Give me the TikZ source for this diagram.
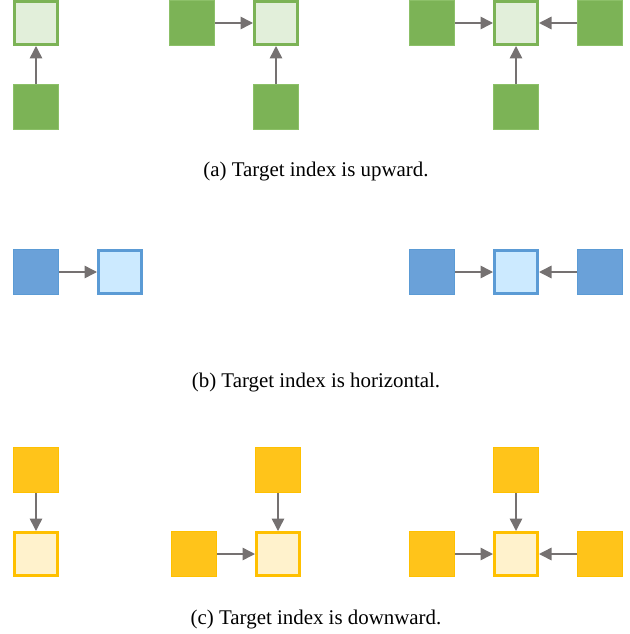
\documentclass[tikz,border=0pt]{standalone}
\usepackage{fontspec}
\setmainfont{Liberation Serif}
\usetikzlibrary{arrows.meta}
\definecolor{gsrc}{HTML}{7CB356}
\definecolor{gsrcd}{HTML}{8CC068}
\definecolor{gtgt}{HTML}{E2EFDA}
\definecolor{gtgtd}{HTML}{7CB356}
\definecolor{bsrc}{HTML}{6AA1D9}
\definecolor{bsrcd}{HTML}{5B9BD5}
\definecolor{btgt}{HTML}{CCEAFF}
\definecolor{btgtd}{HTML}{5B9BD5}
\definecolor{ysrc}{HTML}{FFC41A}
\definecolor{ysrcd}{HTML}{FFC000}
\definecolor{ytgt}{HTML}{FFF2CC}
\definecolor{ytgtd}{HTML}{FFC000}
\definecolor{arr}{HTML}{757171}
\tikzset{
  box/.style={rectangle, inner sep=0pt, minimum size=45pt},
  gs/.style={box, fill=gsrc, draw=gsrcd, line width=1pt},
  gt/.style={box, minimum size=43pt, fill=gtgt, draw=gtgtd, line width=3pt},
  bs/.style={box, fill=bsrc, draw=bsrcd, line width=1pt},
  bt/.style={box, minimum size=43pt, fill=btgt, draw=btgtd, line width=3pt},
  ys/.style={box, fill=ysrc, draw=ysrcd, line width=1pt},
  yt/.style={box, minimum size=43pt, fill=ytgt, draw=ytgtd, line width=3pt},
  link/.style={draw=arr, line width=1.5pt, -{Triangle[length=12.5pt,width=12.5pt]}},
  captext/.style={font=\fontsize{20.9}{25}\selectfont, inner sep=0pt, anchor=base}
}
\begin{document}
\begin{tikzpicture}[x=1pt,y=-1pt]
\useasboundingbox (0,0) rectangle (629,634);
% (a)
\node[gt] (a1t) at (36,23) {};
\node[gs] (a1s) at (36,107) {};
\draw[link] (a1s) -- (a1t);
\node[gt] (a2t) at (276,23) {};
\node[gs] (a2l) at (192,23) {};
\node[gs] (a2b) at (276,107) {};
\draw[link] (a2l) -- (a2t);
\draw[link] (a2b) -- (a2t);
\node[gt] (a3t) at (516,23) {};
\node[gs] (a3l) at (432,23) {};
\node[gs] (a3r) at (600,23) {};
\node[gs] (a3b) at (516,107) {};
\draw[link] (a3l) -- (a3t);
\draw[link] (a3r) -- (a3t);
\draw[link] (a3b) -- (a3t);
\node[captext] (capa) at (316,176) {(a) Target index is upward.};
% (b)
\node[bs] (b1l) at (36,272) {};
\node[bt] (b1t) at (120,272) {};
\draw[link] (b1l) -- (b1t);
\node[bs] (b3l) at (432,272) {};
\node[bt] (b3t) at (516,272) {};
\node[bs] (b3r) at (600,272) {};
\draw[link] (b3l) -- (b3t);
\draw[link] (b3r) -- (b3t);
\node[captext] (capb) at (316,387) {(b) Target index is horizontal.};
% (c)
\node[ys] (c1s) at (36,470) {};
\node[yt] (c1t) at (36,554) {};
\draw[link] (c1s) -- (c1t);
\node[ys] (c2u) at (278,470) {};
\node[ys] (c2l) at (194,554) {};
\node[yt] (c2t) at (278,554) {};
\draw[link] (c2u) -- (c2t);
\draw[link] (c2l) -- (c2t);
\node[ys] (c3u) at (516,470) {};
\node[ys] (c3l) at (432,554) {};
\node[yt] (c3t) at (516,554) {};
\node[ys] (c3r) at (600,554) {};
\draw[link] (c3u) -- (c3t);
\draw[link] (c3l) -- (c3t);
\draw[link] (c3r) -- (c3t);
\node[captext] (capc) at (316,624) {(c) Target index is downward.};
\end{tikzpicture}
\end{document}
